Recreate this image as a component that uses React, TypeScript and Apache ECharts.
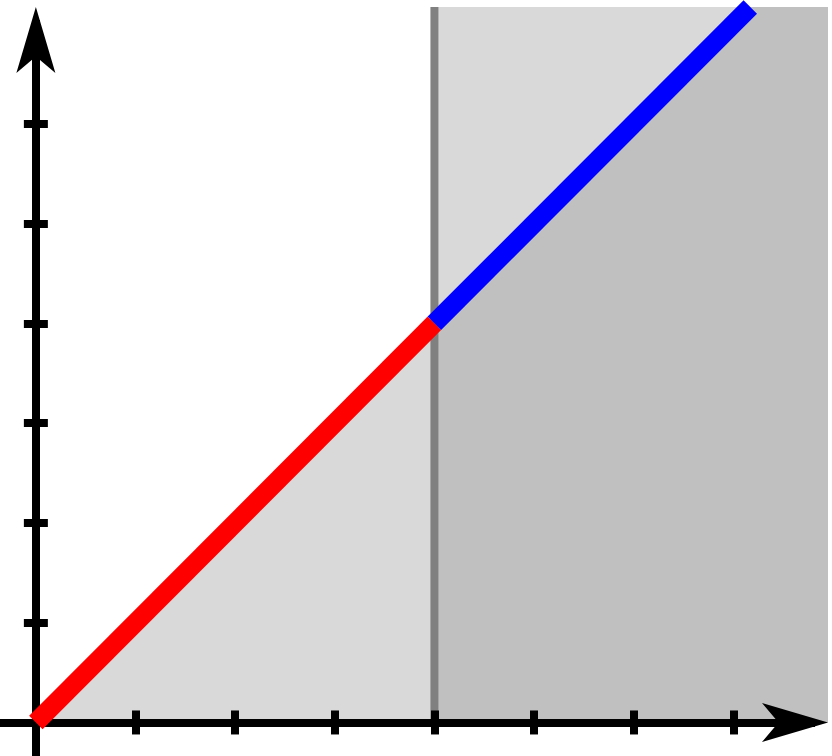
import React, { useEffect, useRef } from "react";
import * as echarts from "echarts";

// Data (in axis units)
const redLine = [[0, 0], [4, 4]];
const blueLine = [[4, 4], [7.17, 7.17]];
const lightRegionRight = [[4, 7.17], [7.95, 7.17]];
const darkRegion = [[4, 4], [7.17, 7.17], [7.95, 7.17]];
const lightTriangle = [[0, 0], [4, 4]];
const dividerLine = [[4, 0], [4, 7.17]];
const xTicks = [1, 2, 3, 4, 5, 6, 7];
const yTicks = [1, 2, 3, 4, 5, 6];
// visible axes (end before the arrow tips)
const xAxisRange = [-0.36, 7.82];
const yAxisRange = [-0.336, 7.04];
// plotting area (whole drawing)
const xPlotRange = [-0.36, 7.95];
const yPlotRange = [-0.336, 7.17];

export default function App() {
  const ref = useRef<HTMLDivElement>(null);
  useEffect(() => {
    if (!ref.current) return;
    const chart = echarts.init(ref.current, undefined, { renderer: "svg" });
    const axisCommon = (isX: boolean, inside: boolean, showLine: boolean) => ({
      type: "value",
      gridIndex: 0,
      min: isX ? xAxisRange[0] : yAxisRange[0],
      max: isX ? xAxisRange[1] : yAxisRange[1],
      position: isX ? "bottom" : "left",
      z: 3,
      axisLine: {
        show: showLine,
        onZero: true,
        onZeroAxisIndex: 0,
        symbol: ["none", "arrow"],
        symbolSize: [29.25, 66],
        symbolOffset: [0, 13],
        lineStyle: { color: "#000", width: 8, cap: "butt" },
      },
      axisTick: {
        show: true,
        inside,
        length: 12,
        customValues: isX ? xTicks : yTicks,
        lineStyle: { color: "#000", width: 8 },
      },
      axisLabel: { show: false },
      splitLine: { show: false },
    });
    const hiddenAxis = (isX: boolean) => ({
      type: "value",
      gridIndex: 1,
      min: isX ? xPlotRange[0] : yPlotRange[0],
      max: isX ? xPlotRange[1] : yPlotRange[1],
      show: false,
      axisLine: { show: false, onZero: false },
      axisTick: { show: false },
      axisLabel: { show: false },
      splitLine: { show: false },
    });
    const onPlot = { xAxisIndex: 2, yAxisIndex: 2 };
    const areaSeries = (data: number[][], color: string) => ({
      type: "line",
      ...onPlot,
      data,
      symbol: "none",
      z: 1,
      silent: true,
      lineStyle: { width: 0, color },
      areaStyle: { color, opacity: 1 },
    });
    chart.setOption({
      animation: false,
      grid: [
        { left: 0, right: 17, top: 20, bottom: 0, containLabel: false, outerBoundsMode: "none" },
        { left: 0, right: 4, top: 7, bottom: 0, containLabel: false, outerBoundsMode: "none" },
      ],
      xAxis: [axisCommon(true, false, true), axisCommon(true, true, false), hiddenAxis(true)],
      yAxis: [axisCommon(false, false, true), axisCommon(false, true, false), hiddenAxis(false)],
      series: [
        areaSeries(lightRegionRight, "#d9d9d9"),
        areaSeries(darkRegion, "#c0c0c0"),
        areaSeries(lightTriangle, "#d9d9d9"),
        {
          type: "line",
          ...onPlot,
          data: dividerLine,
          symbol: "none",
          z: 1,
          lineStyle: { color: "#808080", width: 8, cap: "butt" },
        },
        {
          type: "line",
          ...onPlot,
          data: redLine,
          symbol: "none",
          clip: false,
          z: 5,
          lineStyle: { color: "#ff0000", width: 19, cap: "butt" },
        },
        {
          type: "line",
          ...onPlot,
          data: blueLine,
          symbol: "none",
          clip: false,
          z: 5,
          lineStyle: { color: "#0000ff", width: 19, cap: "butt" },
        },
      ],
    });
    return () => chart.dispose();
  }, []);
  return (
    <div
      ref={ref}
      style={{ position: "fixed", left: 0, top: 0, width: 832, height: 756 }}
    />
  );
}
